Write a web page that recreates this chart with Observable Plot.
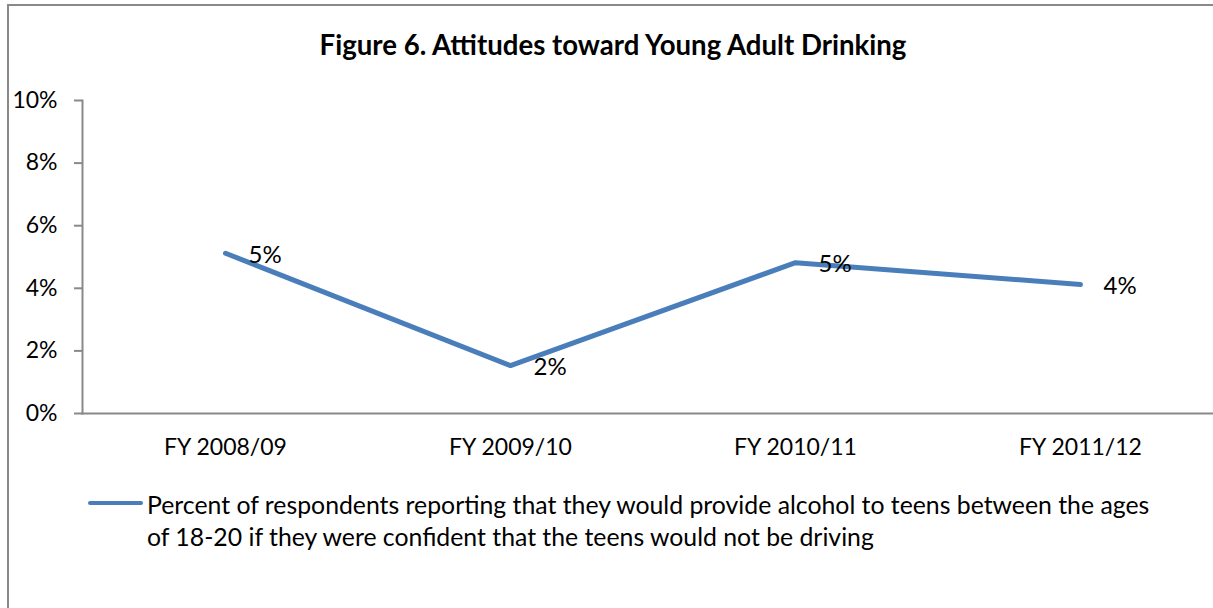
<!DOCTYPE html>
<html>
<head>
<meta charset="utf-8">
<script src="https://cdn.jsdelivr.net/npm/d3@7"></script>
<script src="https://cdn.jsdelivr.net/npm/@observablehq/plot@0.6"></script>
<style>
  html, body { margin: 0; padding: 0; background: #fff; overflow: hidden; width: 1213px; height: 608px; }
  body { position: relative; font-family: Lato, "Open Sans", sans-serif; color: #000; }
  #frame { position: absolute; left: 7px; top: 4px; width: 1400px; height: 800px;
           border-left: 2px solid #898989; border-top: 2px solid #898989; }
  #title { position: absolute; left: 0; top: 28px; width: 1226px; text-align: center;
           font-weight: bold; font-size: 27.6px; line-height: 34px; white-space: nowrap; }
  #chart { position: absolute; left: 0; top: 80px; }
  #chart svg { max-width: none !important; }
  #legend { position: absolute; left: 88px; top: 489px; width: 1100px; }
  #legend .swatch { position: absolute; left: 0; top: 12px; width: 55px; height: 4px;
                    background: #4a7ebb; border-radius: 2px; }
  #legend .text { position: absolute; left: 59px; top: 0; width: 1100px; font-size: 24.8px; line-height: 32px; white-space: nowrap; }
</style>
</head>
<body>
<div id="frame"></div>
<div id="title">Figure 6. Attitudes toward Young Adult Drinking</div>
<div id="chart"></div>
<div id="legend"><div class="swatch"></div><div class="text" id="legendText"></div></div>
<script>
const categories = ["FY 2008/09", "FY 2009/10", "FY 2010/11", "FY 2011/12"];
const values = [0.0512, 0.0153, 0.0482, 0.0412];
const yTicks = [0, 0.02, 0.04, 0.06, 0.08, 0.10];
const seriesName = "Percent of respondents reporting that they would provide alcohol to teens between the ages of 18-20 if they were confident that the teens would not be driving";

const data = categories.map((c, i) => ({category: c, value: values[i]}));
const pct = d3.format(".0%");
const axisColor = "#898989";
const lineColor = "#4a7ebb";

const chart = Plot.plot({
  width: 1240,
  height: 393,
  marginLeft: 82,
  marginRight: 18,
  marginTop: 20,
  marginBottom: 60,
  style: {fontFamily: "Lato, 'Open Sans', sans-serif", fontSize: "23px", color: "#000", background: "transparent", maxWidth: "none"},
  x: {type: "point", domain: categories, padding: 0.5, label: null},
  y: {domain: [0, 0.10], label: null},
  marks: [
    Plot.frame({anchor: "left", stroke: axisColor, strokeWidth: 2, strokeOpacity: 1}),
    Plot.frame({anchor: "bottom", stroke: axisColor, strokeWidth: 2, strokeOpacity: 1}),
    Plot.axisY({ticks: yTicks, tickFormat: pct, tickSize: 8, tickPadding: 17, stroke: axisColor, strokeWidth: 2, strokeOpacity: 1, fill: "#000", fontSize: 23, label: null}),
    Plot.axisX({tickSize: 0, tickPadding: 25, fill: "#000", fontSize: 23, label: null}),
    Plot.line(data, {x: "category", y: "value", stroke: lineColor, strokeWidth: 5, strokeLinecap: "round", strokeLinejoin: "round"}),
    Plot.text(data, {x: "category", y: "value", text: d => pct(d.value), textAnchor: "start", dx: 23, dy: 2, fill: "#000", fontSize: 24})
  ]
});
document.getElementById("chart").appendChild(chart);
document.getElementById("legendText").innerHTML =
  seriesName.replace(" of 18-20", "<br>of 18-20");
</script>
</body>
</html>
